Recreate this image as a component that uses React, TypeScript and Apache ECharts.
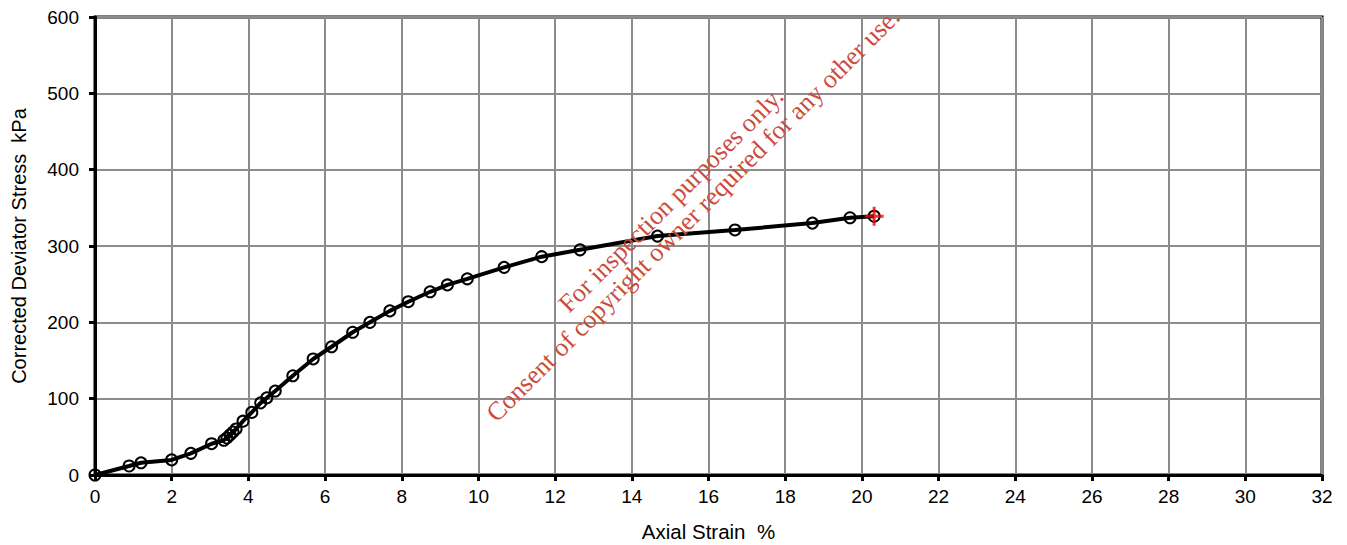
import React, { useEffect, useRef } from "react";
import * as echarts from "echarts";

const strain: number[] = [0, 0.89, 1.2, 2.0, 2.5, 3.04, 3.36, 3.44, 3.52, 3.6, 3.68, 3.86, 4.09, 4.32, 4.48, 4.7, 5.16, 5.69, 6.17, 6.72, 7.17, 7.69, 8.17, 8.74, 9.19, 9.71, 10.67, 11.65, 12.65, 14.67, 16.69, 18.71, 19.69, 20.32];
const stress: number[] = [0, 11.8, 16, 19.8, 28.4, 41, 45.5, 48.5, 52.4, 56.3, 60.3, 70.5, 82, 94.5, 101, 110, 130, 152, 168, 187, 200, 215, 227, 240, 249, 257, 272, 286, 295, 313, 321, 330, 337, 339];
const failurePoint: number[] = [20.32, 339];
const watermarkLines: string[] = ["For inspection purposes only.", "Consent of copyright owner required for any other use."];
const xTitle = "Axial Strain  %";
const yTitle = "Corrected Deviator Stress  kPa";

const plusPath = "path://M-1.6,-10 L1.6,-10 L1.6,-1.6 L10,-1.6 L10,1.6 L1.6,1.6 L1.6,10 L-1.6,10 L-1.6,1.6 L-10,1.6 L-10,-1.6 L-1.6,-1.6 Z";

export default function App() {
  const ref = useRef<HTMLDivElement>(null);
  useEffect(() => {
    if (!ref.current) return;
    const chart = echarts.init(ref.current, null, { renderer: "svg" });
    const font = "Liberation Sans, Arial, sans-serif";
    const wmFont = "26px 'Liberation Serif', 'Times New Roman', serif";
    chart.setOption({
      animation: false,
      backgroundColor: "#fff",
      grid: { left: 95, right: 25, top: 17, bottom: 70, outerBoundsMode: "none", containLabel: false, show: true, borderColor: "#000", borderWidth: 3, backgroundColor: "transparent" },
      xAxis: {
        type: "value", min: 0, max: 32, interval: 2,
        name: xTitle, nameLocation: "middle", nameGap: 46,
        nameTextStyle: { fontFamily: font, fontSize: 20.5, color: "#000" },
        axisLine: { show: true, onZero: false, lineStyle: { color: "#000", width: 3 } },
        axisTick: { show: true, length: 6, lineStyle: { color: "#000", width: 3 } },
        axisLabel: { fontFamily: font, fontSize: 19, color: "#000", margin: 12 },
        splitLine: { show: true, lineStyle: { color: "#8c8c8c", width: 2 } },
      },
      yAxis: {
        type: "value", min: 0, max: 600, interval: 100,
        name: yTitle, nameLocation: "middle", nameGap: 66, nameRotate: 90,
        nameTextStyle: { fontFamily: font, fontSize: 20, color: "#000" },
        axisLine: { show: true, onZero: false, lineStyle: { color: "#000", width: 3 } },
        axisTick: { show: true, length: 6, lineStyle: { color: "#000", width: 3 } },
        axisLabel: { fontFamily: font, fontSize: 19, color: "#000", margin: 16 },
        splitLine: { show: true, lineStyle: { color: "#8c8c8c", width: 2 } },
      },
      series: [
        {
          type: "line",
          data: strain.map((x, i) => [x, stress[i]]),
          symbol: "circle", symbolSize: 11, showSymbol: true,
          lineStyle: { color: "#000", width: 4 },
          itemStyle: { color: "transparent", borderColor: "#000", borderWidth: 2 },
          z: 3,
        },
        {
          type: "scatter",
          data: [failurePoint],
          symbol: plusPath, symbolSize: 19,
          itemStyle: { color: "#ff0000" },
          z: 4,
        },
      ],
      graphic: [
        {
          type: "text", x: 671, y: 200, rotation: Math.PI / 4, z: 10,
          style: { text: watermarkLines[0], font: wmFont, fill: "#cc4b3c", textAlign: "center", textVerticalAlign: "middle" },
        },
        {
          type: "text", x: 693, y: 215, rotation: Math.PI / 4, z: 10,
          style: { text: watermarkLines[1], font: wmFont, fill: "#cc4b3c", textAlign: "center", textVerticalAlign: "middle" },
        },
      ],
    });
    return () => chart.dispose();
  }, []);
  return <div ref={ref} style={{ width: 1347, height: 545, position: "absolute", left: 0, top: 0 }} />;
}
